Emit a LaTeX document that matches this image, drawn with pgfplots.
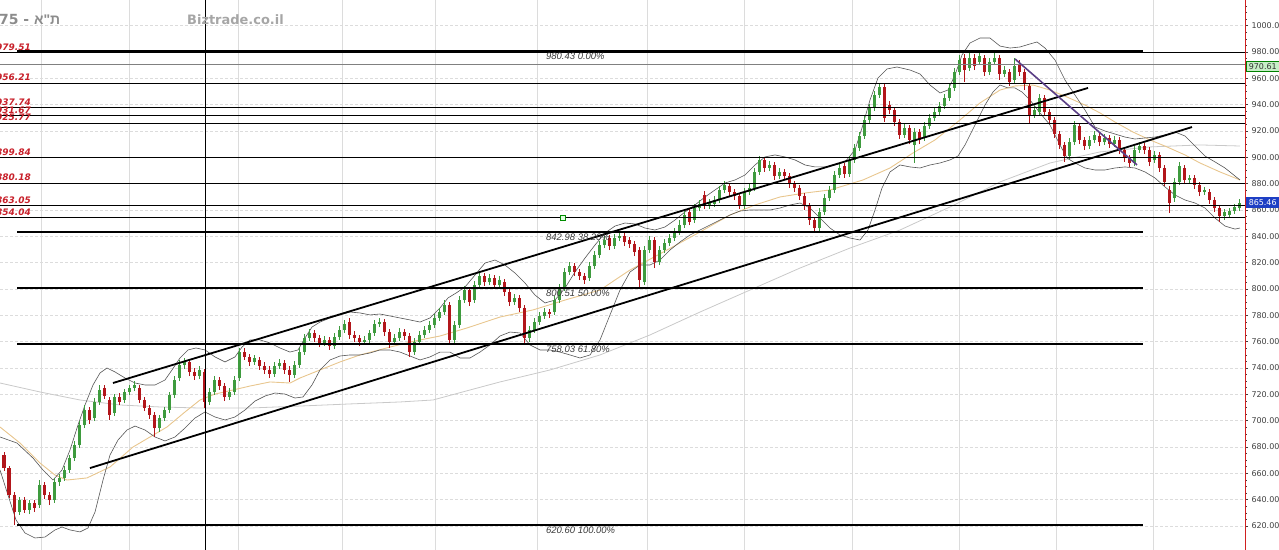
\documentclass[border=0pt]{standalone}
\usepackage{pgfplots}
\pgfplotsset{compat=1.18}
\usepackage{pgfplotstable}
\usepackage{fontspec}
\setmainfont{DejaVu Sans}
\newfontfamily\hebfont[Script=Hebrew]{Liberation Sans}
\newfontfamily\libsans{Liberation Sans}
\TeXXeTstate=1

\definecolor{upc}{HTML}{3E9B3E}
\definecolor{dnc}{HTML}{B2161B}
\definecolor{bandc}{HTML}{555555}
\definecolor{mac}{HTML}{E8C68E}
\definecolor{lmac}{HTML}{C9C9C9}
\definecolor{lvlred}{HTML}{C8202A}
\definecolor{axred}{HTML}{D02020}
\definecolor{gridc}{HTML}{DCDCDC}
\definecolor{purp}{HTML}{5B3F86}
\definecolor{fibtext}{HTML}{3A3A3A}
\definecolor{boxblue}{HTML}{1E3FC4}
\definecolor{boxgreen}{HTML}{C6EFC6}
\definecolor{tickc}{HTML}{404040}

% daily candles: x (pixel column), open, high, low, close
\pgfplotstableread{
x o h l c
4 673.9 676.2 661.8 664.0
9 664.0 665.6 641.3 643.5
14 643.5 645.8 620.6 630.6
19 630.6 642.0 628.4 639.7
24 639.7 642.0 629.9 632.2
29 632.2 639.7 629.1 637.5
34 637.5 639.7 630.6 633.7
39 635.9 654.9 633.7 651.1
44 651.1 653.4 640.5 643.5
49 643.5 645.8 635.9 639.7
54 639.7 656.5 637.5 653.4
59 653.4 659.5 650.4 656.5
64 656.5 665.6 654.2 662.5
69 662.5 673.9 660.3 671.6
74 671.6 684.6 669.4 681.5
79 681.5 699.7 679.2 696.7
84 696.7 711.9 694.4 708.1
89 708.1 710.4 697.5 700.5
94 702.0 717.2 699.7 714.2
99 714.2 727.1 711.9 723.3
104 724.8 727.1 716.5 718.7
109 715.7 718.0 700.5 704.3
114 705.8 720.2 703.5 718.0
119 718.0 721.0 711.9 714.2
124 715.7 724.0 713.4 721.8
129 721.8 727.1 719.5 724.8
134 724.8 730.1 722.5 727.1
139 724.8 727.1 713.4 715.7
144 715.7 718.0 707.3 709.6
149 709.6 711.9 701.3 704.3
154 704.3 706.6 687.6 694.4
159 694.4 704.3 691.4 702.0
164 702.0 710.4 699.7 708.1
169 708.1 721.8 705.8 719.5
174 719.5 733.9 717.2 730.9
179 732.4 746.1 730.1 742.3
184 742.3 747.6 739.2 744.6
189 744.6 746.8 733.9 737.0
194 737.0 740.0 730.9 733.9
199 733.9 741.5 731.6 738.5
204 737.0 739.2 709.6 714.2
209 714.2 724.8 711.9 721.8
214 721.8 733.9 719.5 730.9
219 730.9 733.2 723.3 726.3
224 726.3 728.6 714.9 718.0
229 718.0 724.8 715.7 721.8
234 721.8 733.9 719.5 730.9
239 732.4 755.2 730.1 752.1
244 752.1 755.2 746.1 748.4
249 748.4 750.6 741.5 744.6
254 744.6 749.9 742.3 747.6
259 746.1 748.4 738.5 741.5
264 741.5 744.6 735.4 738.5
269 738.5 741.5 732.4 735.4
274 735.4 744.6 733.2 741.5
279 741.5 746.8 739.2 743.8
284 743.8 746.1 735.4 738.5
289 738.5 741.5 729.4 734.7
294 734.7 745.3 732.4 742.3
299 742.3 755.2 740.0 752.1
304 752.1 765.8 749.9 762.8
309 762.8 769.6 760.5 766.6
314 766.6 768.9 759.7 762.8
319 762.8 765.1 755.9 759.0
324 759.0 764.3 756.7 761.3
329 761.3 763.5 753.7 756.7
334 756.7 766.6 754.4 763.5
339 763.5 771.9 761.3 768.9
344 768.9 776.5 766.6 773.4
349 774.9 778.0 762.0 765.1
354 765.1 768.1 759.7 762.8
359 762.8 765.1 756.7 759.7
364 759.7 764.3 757.5 761.3
369 761.3 768.9 759.0 766.6
374 766.6 776.5 764.3 773.4
379 773.4 778.0 771.1 774.9
384 774.9 777.2 764.3 767.3
389 767.3 769.6 755.2 759.7
394 759.7 765.8 757.5 762.8
399 762.8 770.4 760.5 767.3
404 767.3 769.6 761.3 764.3
409 764.3 766.6 748.4 752.1
414 752.1 762.8 749.9 759.7
419 759.7 768.1 757.5 765.1
424 765.1 771.9 762.8 768.9
429 768.9 775.7 766.6 772.7
434 772.7 781.0 770.4 778.0
439 778.0 785.6 775.7 782.5
444 782.5 791.6 780.3 787.8
449 787.8 790.1 757.5 761.3
454 761.3 775.7 758.2 772.7
459 772.7 794.7 770.4 791.6
464 791.6 802.3 789.4 799.2
469 799.2 801.5 787.1 790.1
474 791.6 806.1 789.4 803.0
479 803.0 812.9 800.7 809.9
484 809.9 812.1 802.3 805.3
489 805.3 811.4 803.0 808.3
494 808.3 810.6 800.0 803.0
499 803.0 809.9 800.7 806.8
504 805.3 807.6 794.7 797.7
509 797.7 800.0 787.1 790.1
514 790.1 796.2 787.8 793.2
519 793.2 795.4 782.5 785.6
524 785.6 787.8 757.5 762.8
529 762.8 771.9 759.7 768.9
534 768.9 778.0 766.6 774.9
539 774.9 782.5 772.7 779.5
544 779.5 785.6 777.2 782.5
549 782.5 784.8 778.0 781.0
554 782.5 794.7 780.3 791.6
559 791.6 803.8 789.4 800.7
564 800.7 815.9 798.5 812.9
569 812.9 820.5 810.6 817.4
574 817.4 819.7 809.9 812.9
579 812.9 815.2 806.8 809.9
584 809.9 812.1 803.8 806.8
589 808.3 820.5 806.1 817.4
594 817.4 828.8 815.2 825.8
599 825.8 836.4 823.5 833.4
604 833.4 840.2 831.1 837.2
609 838.7 841.0 829.6 832.6
614 832.6 841.7 830.4 838.7
619 838.7 843.3 836.4 840.2
624 840.2 842.5 832.6 835.7
629 837.2 839.5 831.1 834.1
634 834.1 836.4 825.0 828.1
639 829.6 831.9 801.5 806.8
644 805.3 832.6 803.0 829.6
649 829.6 840.2 827.3 837.2
654 837.2 839.5 815.9 820.5
659 820.5 832.6 818.2 829.6
664 829.6 837.9 827.3 834.9
669 834.9 841.7 832.6 838.7
674 838.7 846.3 836.4 843.3
679 843.3 852.4 841.0 848.6
684 848.6 859.2 846.3 856.2
689 858.5 861.5 848.6 850.9
694 852.4 864.6 850.1 861.5
699 861.5 867.6 859.2 864.6
704 871.4 874.4 860.8 863.0
709 863.0 868.4 860.8 865.3
714 864.6 870.6 862.3 867.6
719 867.6 878.2 865.3 875.2
724 875.2 882.0 872.9 879.0
729 878.2 880.5 870.6 873.7
734 873.7 875.9 867.6 870.6
739 870.6 872.9 860.8 863.0
744 863.0 876.7 860.8 873.7
749 873.7 879.7 871.4 876.7
754 876.7 891.9 874.4 888.9
759 888.9 901.0 886.6 898.0
764 898.0 900.3 888.9 891.9
769 891.9 897.2 889.6 894.2
774 894.2 896.5 882.8 885.8
779 885.8 891.9 883.5 888.9
784 888.9 891.1 882.8 885.8
789 885.8 888.1 876.7 879.7
794 879.7 882.0 873.7 876.7
799 876.7 879.0 867.6 870.6
804 870.6 872.9 860.0 863.0
809 863.0 865.3 848.6 852.4
814 852.4 854.7 843.3 846.3
819 846.3 861.5 844.0 858.5
824 858.5 872.1 856.2 869.1
829 869.1 878.2 866.8 875.2
834 875.2 889.6 872.9 886.6
839 886.6 894.9 884.3 891.9
844 893.4 895.7 884.3 887.3
849 887.3 901.0 885.1 898.0
854 898.0 910.1 895.7 907.1
859 907.1 919.2 904.8 916.2
864 916.2 931.4 913.9 928.4
869 928.4 940.5 926.1 937.5
874 937.5 950.4 935.2 947.3
879 947.3 956.4 945.1 953.4
884 953.4 955.7 926.8 929.9
889 939.7 942.8 932.9 935.9
894 935.9 938.2 923.8 926.8
899 926.8 929.1 913.9 917.0
904 917.0 925.3 914.7 922.3
909 922.3 924.6 910.1 913.2
914 909.4 922.3 895.7 919.2
919 919.2 921.5 910.1 913.2
924 914.7 926.8 912.4 923.8
929 923.8 932.9 921.5 929.9
934 929.9 937.5 927.6 934.4
939 934.4 942.0 932.2 939.0
944 939.0 948.1 936.7 945.1
949 945.1 955.7 942.8 952.7
954 952.7 967.8 950.4 964.8
959 964.8 977.7 962.5 973.9
964 975.4 978.5 957.2 966.3
969 967.8 979.2 965.6 975.4
974 975.4 978.5 966.3 969.4
979 972.4 980.4 970.1 977.0
984 975.4 977.7 961.8 964.8
989 964.8 975.4 962.5 972.4
994 972.4 979.2 970.1 975.4
999 975.4 977.7 958.7 963.3
1004 963.3 969.4 961.0 966.3
1009 964.8 967.1 954.2 957.2
1014 958.7 975.4 956.4 969.4
1019 970.9 973.9 961.8 964.8
1024 964.8 967.1 951.1 955.7
1029 954.2 956.4 926.1 932.2
1034 932.2 939.0 929.9 935.9
1039 934.4 948.1 932.2 945.1
1044 945.1 947.3 931.4 934.4
1049 934.4 936.7 925.3 928.4
1054 928.4 930.6 914.7 917.7
1059 917.7 920.0 906.3 909.4
1064 909.4 911.6 896.5 901.0
1069 901.0 914.7 898.7 911.6
1074 911.6 927.6 909.4 924.6
1079 923.8 926.1 910.1 913.2
1084 913.2 915.4 905.6 908.6
1089 908.6 916.2 906.3 913.2
1094 913.2 920.0 910.9 917.0
1099 916.2 918.5 908.6 911.6
1104 911.6 917.7 909.4 914.7
1109 914.7 917.0 907.1 910.1
1114 910.1 916.2 907.9 913.2
1119 913.2 915.4 902.5 905.6
1124 905.6 907.9 896.5 899.5
1129 899.5 901.8 892.7 895.7
1134 895.7 908.6 893.4 905.6
1139 905.6 911.6 903.3 908.6
1144 908.6 910.9 902.5 905.6
1149 905.6 907.9 893.4 896.5
1154 898.0 904.8 895.7 901.8
1159 901.8 904.1 888.9 891.9
1164 891.9 894.2 878.2 881.3
1169 875.2 878.2 857.7 865.3
1174 869.1 884.3 866.1 881.3
1179 881.3 896.5 879.0 893.4
1184 891.9 894.2 879.7 882.8
1189 882.8 886.6 880.5 884.3
1194 884.3 886.6 875.9 879.0
1199 879.0 881.3 870.6 873.7
1204 873.7 877.5 871.4 875.2
1209 873.7 875.9 864.6 867.6
1214 867.6 869.9 858.5 861.5
1219 861.5 863.8 850.9 855.4
1224 855.4 860.8 852.4 858.5
1229 856.2 861.5 853.9 859.2
1234 859.2 864.6 857.0 862.3
1239 861.5 868.4 859.2 865.46
}\candles

\begin{document}
\begin{tikzpicture}
\path[use as bounding box, clip] (0,0) rectangle (1279bp,550bp);
\begin{axis}[
  at={(0,0)}, anchor=south west, scale only axis,
  width=1245bp, height=550bp,
  xmin=0, xmax=1245, ymin=601.77, ymax=1019.49,
  clip mode=individual,
  axis x line*=bottom, x axis line style={draw=none},
  axis y line*=right, y axis line style={draw=axred, line width=1bp},
  xtick={41,129,238,342,435,537,647,744,852,959,1056,1153},
  xticklabels={}, xtick style={draw=none},
  xmajorgrids, x grid style={draw=gridc, line width=0.6bp},
  ytick={620,640,...,1020},
  ymajorgrids, y grid style={draw=gridc, line width=0.6bp, dash pattern=on 3bp off 2bp},
  minor y tick num=3,
  tick align=outside, major tick length=3bp, minor tick length=1.8bp,
  ytick style={draw=tickc, line width=0.5bp},
  yticklabel style={font=\fontsize{8}{9}\selectfont, text=tickc,
    /pgf/number format/.cd, fixed, fixed zerofill, precision=2, 1000 sep={}, assume math mode=true},
]

% long moving average
\addplot[lmac, line width=0.8bp] coordinates {
(0,728.6) (40,721.8) (80,715.7) (120,711.9) (160,710.4) (200,709.6) (250,709.6)
(300,711.1) (350,712.7) (400,714.2) (433,715.7) (470,723.3) (500,729.4) (550,738.5)
(600,749.9) (650,765.1) (700,782.5) (750,799.2) (800,815.9) (850,831.1) (900,844.8)
(950,862.3) (1000,881.3) (1050,895.7) (1100,904.1) (1150,907.9) (1200,909.4) (1240,908.6)};

% medium moving average
\addplot[mac, line width=0.9bp] coordinates {
(0,695.2) (20,683.0) (40,667.8) (55,658.7) (67,654.9) (87,656.5) (110,664.8) (133,680.0)
(150,687.6) (167,695.2) (185,706.6) (200,715.7) (215,720.2) (233,723.3) (250,726.3)
(270,729.4) (290,728.6) (300,732.4) (320,738.5) (340,744.6) (360,749.9) (390,755.9)
(415,760.5) (440,764.3) (467,770.4) (500,778.7) (533,784.1) (565,791.6) (600,799.2)
(630,814.4) (667,829.6) (700,843.3) (730,856.2) (755,863.8) (780,869.9) (805,872.9)
(830,875.2) (863,882.8) (890,891.9) (913,903.3) (935,913.2) (960,928.4) (980,941.3)
(1000,951.1) (1015,954.2) (1033,954.9) (1050,951.1) (1067,945.8) (1085,939.7)
(1100,933.7) (1115,926.8) (1133,919.2) (1150,913.2) (1167,907.9) (1185,901.8)
(1200,895.7) (1220,888.9) (1240,882.8)};

% Bollinger upper band
\addplot[bandc, line width=0.6bp] coordinates {
(0,687.6) (17,683.0) (33,671.6) (43,662.5) (53,654.9) (62,662.5) (70,677.7) (78,696.7)
(85,711.9) (93,727.1) (100,736.2) (107,740.0) (115,737.0) (125,732.4) (135,728.6)
(145,727.1) (155,727.1) (165,730.9) (172,738.5) (180,747.6) (188,753.7) (196,755.2)
(205,753.7) (215,748.4) (225,744.6) (235,748.4) (242,755.9) (250,761.3) (260,761.3)
(270,759.0) (280,755.2) (290,752.1) (298,753.7) (305,762.8) (312,771.1) (320,774.9)
(330,778.0) (340,780.3) (350,782.5) (360,781.8) (370,780.3) (380,781.0) (390,779.5)
(400,778.0) (410,776.5) (420,774.9) (430,778.0) (440,785.6) (448,793.2) (456,796.9)
(465,801.5) (475,810.6) (485,819.7) (495,822.0) (505,818.2) (515,812.1) (525,804.5)
(535,795.4) (545,789.4) (555,791.6) (565,800.7) (575,812.9) (585,823.5) (595,833.4)
(605,842.5) (615,847.8) (625,850.1) (635,849.4) (645,846.3) (655,844.8) (665,847.1)
(675,852.4) (685,858.5) (695,863.8) (705,869.9) (715,875.2) (725,880.5) (735,882.8)
(745,886.6) (755,894.2) (765,900.3) (775,901.8) (785,900.3) (795,898.0) (805,894.2)
(815,892.7) (825,892.7) (835,894.2) (845,896.5) (855,905.6) (862,922.3) (870,943.5)
(878,960.3) (887,967.1) (897,968.6) (910,966.3) (920,963.3) (930,954.9) (940,948.9)
(948,951.1) (955,962.5) (962,977.7) (970,986.8) (980,990.6) (990,990.6) (1000,984.5)
(1010,983.0) (1020,983.8) (1030,986.1) (1037,987.6) (1045,983.0) (1055,973.9)
(1065,958.7) (1075,947.3) (1085,935.9) (1095,923.0) (1105,920.0) (1115,917.7)
(1125,915.4) (1135,913.9) (1145,914.7) (1155,915.4) (1165,917.0) (1175,919.2)
(1185,916.2) (1195,908.6) (1205,901.0) (1215,896.5) (1225,891.9) (1235,885.8) (1240,882.8)};

% Bollinger lower band
\addplot[bandc, line width=0.6bp] coordinates {
(0,662.5) (8,643.5) (16,624.6) (25,614.7) (35,610.9) (45,611.6) (55,617.0) (62,619.2)
(70,617.0) (80,615.5) (88,618.5) (95,630.6) (103,654.9) (110,673.9) (118,685.3)
(127,692.9) (135,695.9) (145,692.9) (155,687.6) (165,684.6) (175,687.6) (185,694.4)
(195,702.0) (205,706.6) (215,702.8) (225,700.5) (235,702.8) (245,708.1) (255,714.9)
(265,718.7) (275,721.0) (285,720.2) (295,717.2) (303,718.0) (312,727.1) (320,738.5)
(330,746.1) (340,749.1) (350,749.9) (360,749.9) (370,751.4) (380,753.7) (390,753.7)
(400,752.1) (410,749.1) (420,746.1) (430,748.4) (440,752.1) (450,752.1) (460,747.6)
(470,747.6) (480,752.1) (490,757.5) (500,764.3) (510,767.3) (520,766.6) (530,757.5)
(540,753.7) (550,753.7) (560,752.1) (570,749.9) (580,747.6) (590,749.9) (600,761.3)
(610,780.3) (620,799.2) (630,812.9) (640,818.2) (650,818.2) (660,822.0) (670,829.6)
(680,835.7) (690,841.0) (700,844.8) (710,848.6) (720,852.4) (730,856.2) (740,859.2)
(750,860.0) (760,860.0) (770,860.0) (780,861.5) (790,863.8) (800,865.3) (810,861.5)
(820,853.9) (830,846.3) (840,841.0) (850,838.7) (860,837.2) (868,844.8) (875,860.0)
(882,876.7) (890,888.9) (900,894.2) (910,892.7) (920,891.9) (930,894.2) (940,895.7)
(950,898.0) (958,901.0) (965,909.4) (975,924.6) (985,939.7) (993,949.6) (1000,954.9)
(1008,952.7) (1015,952.7) (1022,949.6) (1030,943.5) (1040,933.7) (1050,924.6)
(1060,909.4) (1067,899.5) (1075,895.7) (1085,891.9) (1095,890.4) (1105,890.4)
(1115,891.9) (1125,892.7) (1135,891.9) (1145,888.9) (1155,884.3) (1165,877.5)
(1175,871.4) (1185,867.6) (1195,865.3) (1205,861.5) (1215,853.9) (1225,847.8)
(1235,845.5) (1240,846.3)};

% candles: wicks and bodies, rising and falling
\addplot[draw=none, mark=none, forget plot,
  restrict expr to domain={\thisrow{c}-\thisrow{o}}{0:1000},
  error bars/.cd, y dir=plus, y explicit, error mark=none,
  error bar style={draw=upc, line width=0.8bp}]
  table[x=x, y=l, y error expr=\thisrow{h}-\thisrow{l}] {\candles};
\addplot[draw=none, mark=none, forget plot,
  restrict expr to domain={\thisrow{c}-\thisrow{o}}{0:1000},
  error bars/.cd, y dir=plus, y explicit, error mark=none,
  error bar style={draw=upc, line width=3bp}]
  table[x=x, y=o, y error expr=\thisrow{c}-\thisrow{o}] {\candles};
\addplot[draw=none, mark=none, forget plot,
  restrict expr to domain={\thisrow{c}-\thisrow{o}}{-1000:-0.001},
  error bars/.cd, y dir=plus, y explicit, error mark=none,
  error bar style={draw=dnc, line width=0.8bp}]
  table[x=x, y=l, y error expr=\thisrow{h}-\thisrow{l}] {\candles};
\addplot[draw=none, mark=none, forget plot,
  restrict expr to domain={\thisrow{c}-\thisrow{o}}{-1000:-0.001},
  error bars/.cd, y dir=plus, y explicit, error mark=none,
  error bar style={draw=dnc, line width=3bp}]
  table[x=x, y=c, y error expr=\thisrow{o}-\thisrow{c}] {\candles};

% support / resistance levels across the whole chart
\addplot[gray, line width=0.9bp] coordinates {(0,970.61) (1245,970.61)};
\foreach \lv in {979.51,956.21,937.74,931.67,925.77,899.84,880.18,863.05,854.04} {
  \edef\tmp{\noexpand\addplot[black, line width=1bp] coordinates {(0,\lv) (1245,\lv)};}
  \tmp
}
% Fibonacci retracement levels
\foreach \lv in {980.43,842.98,800.51,758.03,620.60} {
  \edef\tmp{\noexpand\addplot[black, line width=1.9bp] coordinates {(17,\lv) (1143,\lv)};}
  \tmp
}

% vertical marker line
\addplot[black, line width=0.8bp] coordinates {(205,601.77) (205,1019.49)};

% trend channel and falling trend line
\addplot[black, line width=1.8bp] coordinates {(113,728.6) (1088,952.7)};
\addplot[black, line width=1.8bp] coordinates {(90,664.0) (1192,923.0)};
\addplot[purp, line width=1.6bp] coordinates {(1015,974.7) (1137,894.2)};

% small marker
\addplot[only marks, mark=square*, mark size=2.6bp, draw=green!55!black, fill=green!12, line width=0.7bp] coordinates {(563,854.04)};

% level labels on the left
\foreach \lv in {979.51,956.21,937.74,931.67,925.77,899.84,880.18,863.05,854.04} {
  \edef\tmp{\noexpand\node[anchor=base east, inner sep=0pt, text=lvlred,
    font=\noexpand\fontsize{9}{10}\noexpand\selectfont\noexpand\bfseries\noexpand\itshape]
    at (axis cs:31,\lv) [yshift=2.5bp] {\lv};}
  \tmp
}

% Fibonacci labels
\foreach \lv/\pc in {980.43/0.00,842.98/38.20,800.51/50.00,758.03/61.80,620.60/100.00} {
  \edef\tmp{\noexpand\node[anchor=north west, inner sep=0pt, text=fibtext,
    font=\noexpand\libsans\noexpand\fontsize{9.5}{10}\noexpand\selectfont\noexpand\itshape]
    at (axis cs:546,\lv) [yshift=-1.5bp] {\lv\space\pc\noexpand\%};}
  \tmp
}

% titles
\node[anchor=base west, inner sep=0pt, text=black!45,
  font=\fontsize{14}{16}\selectfont\bfseries]
  at (axis cs:-1,1000.5) {\beginR{\hebfont\bfseries ת"א} - \beginL 75\endL\endR};
\node[anchor=base west, inner sep=0pt, text=black!35,
  font=\fontsize{13}{15}\selectfont\bfseries]
  at (axis cs:187,1000.5) {Biztrade.co.il};

% value boxes on the price scale
\node[anchor=west, inner sep=1bp, minimum width=33bp, minimum height=10bp,
  fill=boxgreen, draw=green!50!black, line width=0.5bp, text=black!80,
  font=\fontsize{8}{9}\selectfont] at (axis cs:1246,969.2) {970.61};
\node[anchor=west, inner sep=1bp, minimum width=33bp, minimum height=11bp,
  fill=boxblue, text=white,
  font=\fontsize{8}{9}\selectfont] at (axis cs:1246,865.46) {865.46};

\end{axis}
\end{tikzpicture}
\end{document}
